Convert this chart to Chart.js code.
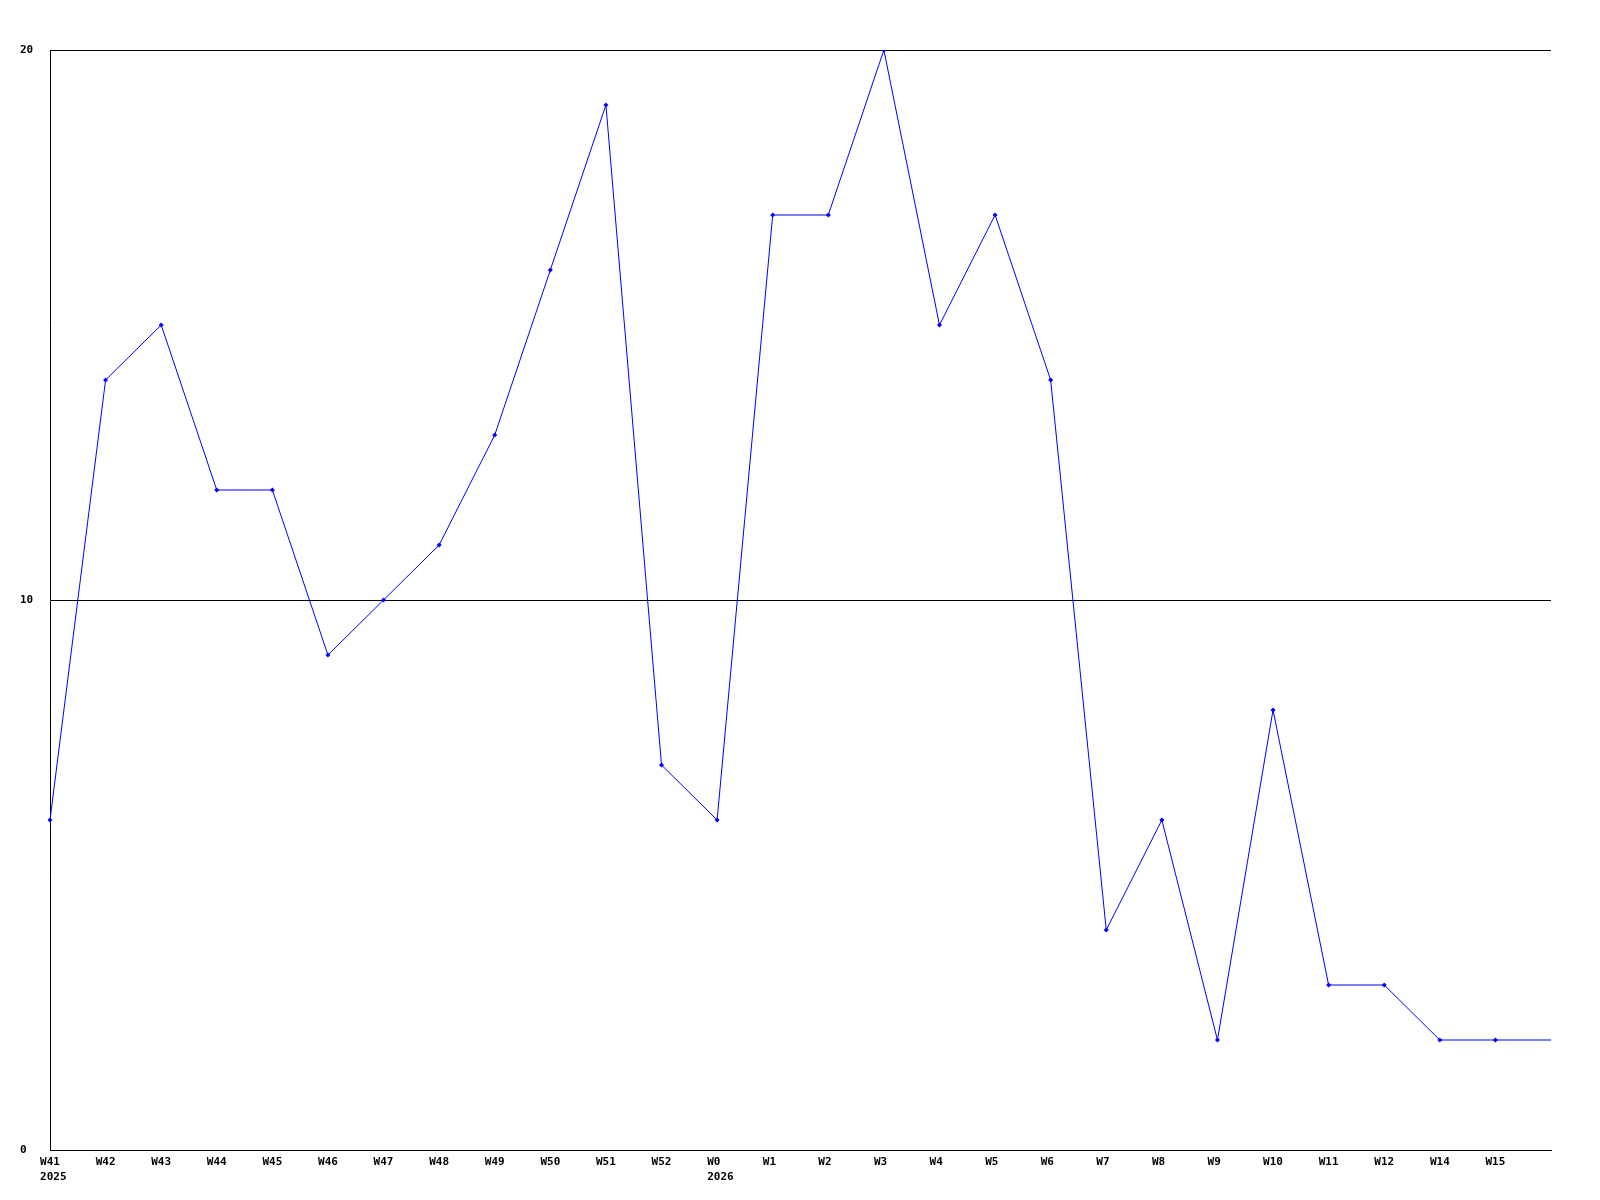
<!DOCTYPE html>
<html>
<head>
<meta charset="utf-8">
<script src="https://cdn.jsdelivr.net/npm/chart.js@4"></script>
<style>
  body { margin: 0; background: #fff; }
  #wrap { width: 1600px; height: 1200px; }
</style>
</head>
<body>
<div id="wrap"><canvas id="myChart" width="1600" height="1200"></canvas></div>
<script>
'use strict'

// Data

let weeks = ['W41', 'W42', 'W43', 'W44', 'W45', 'W46', 'W47', 'W48', 'W49', 'W50', 'W51', 'W52',
  'W0', 'W1', 'W2', 'W3', 'W4', 'W5', 'W6', 'W7', 'W8', 'W9', 'W10', 'W11', 'W12', 'W14', 'W15', ''];
let years = ['2025', '', '', '', '', '', '', '', '', '', '', '',
  '2026', '', '', '', '', '', '', '', '', '', '', '', '', '', '', ''];
let counts = [6, 14, 15, 12, 12, 9, 10, 11, 13, 16, 19, 7,
  6, 17, 17, 20, 15, 17, 14, 4, 6, 2, 8, 3, 3, 2, 2, 2];
let yTicks = [0, 10, 20];

const tickFont = { family: 'DejaVu Sans Mono', size: 11, weight: 'bold', lineHeight: '15px' };

const data = {
  labels: weeks,
  datasets: [{
    label: 'count',
    data: counts,
    borderColor: '#0000ff',
    backgroundColor: '#0000ff',
    borderWidth: 1,
    tension: 0,
    pointStyle: 'rectRot',
    pointRadius: (ctx) => (ctx.dataIndex === counts.length - 1 ? 0 : 2.5),
    pointHoverRadius: 2.5,
    pointBorderWidth: 0
  }]
};

const config = {
  type: 'line',
  data: data,
  options: {
    responsive: false,
    animation: false,
    layout: {
      padding: { left: 20, top: 50, right: 49, bottom: 0 }
    },
    plugins: {
      legend: { display: false },
      tooltip: { enabled: false }
    },
    scales: {
      x: {
        offset: false,
        grid: { display: false, drawTicks: false },
        border: { display: true, color: '#000', width: 1 },
        afterFit: (scale) => { scale.height = 50; },
        ticks: {
          autoSkip: false,
          maxRotation: 0,
          padding: 5,
          color: '#000',
          font: tickFont,
          callback: function (val, i) {
            let w = weeks[i].padEnd(3, ' ');
            if (years[i]) {
              return [w, ' ' + years[i]];
            }
            return w;
          }
        }
      },
      y: {
        min: 0,
        max: 20,
        afterBuildTicks: (scale) => { scale.ticks = yTicks.map(v => ({ value: v })); },
        afterFit: (scale) => { scale.width = 30; },
        grid: { color: '#000', lineWidth: 1, drawTicks: false },
        border: { display: true, color: '#000', width: 1 },
        ticks: {
          crossAlign: 'far',
          padding: 3,
          color: '#000',
          font: tickFont
        }
      }
    }
  }
};

const myChart = new Chart(document.getElementById('myChart'), config);
</script>
</body>
</html>
